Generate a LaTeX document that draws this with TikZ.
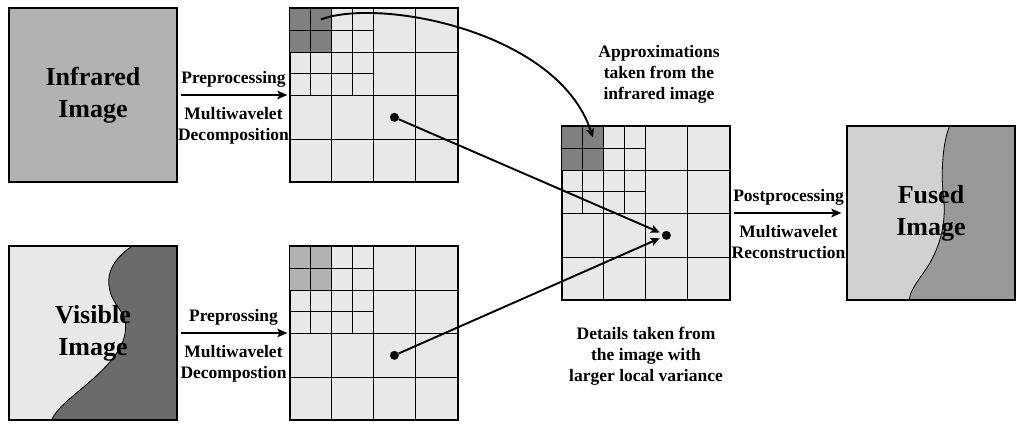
\documentclass[tikz,border=0pt]{standalone}
\usepackage{fontspec}
\setmainfont{Liberation Serif}
\usetikzlibrary{arrows.meta,positioning,backgrounds}
\tikzset{
  photo/.style={draw=black, line width=1.2pt, minimum width=168pt, minimum height=174pt,
                inner sep=0pt, align=center, font=\fontsize{26}{32}\selectfont\bfseries},
  band/.style={draw=black, line width=1.2pt, fill=black!9, minimum width=168pt,
               minimum height=174pt, inner sep=0pt},
  cell/.style={draw=black, line width=1.15pt},
  edge/.style={draw=black, line width=0.8pt},
  flow/.style={draw=black, line width=2pt, -{Stealth[length=10pt,width=8.5pt,inset=2pt]}},
  link/.style={draw=black, line width=1.9pt, -{Stealth[length=9pt,width=8pt,inset=2pt]}},
  lbl/.style={font=\fontsize{17.5}{21}\selectfont\bfseries, align=center, inner sep=2pt},
  dot/.style={circle, fill=black, inner sep=0pt, minimum size=9pt}
}
% subband layout of a two-level decomposition, drawn over node #1
\newcommand{\subbands}[2]{%
  \begin{scope}[shift={(#1.south west)}]
    \fill[#2] (0,130.5) rectangle (42,174);
    \foreach \x in {42,84,126} \draw[cell] (\x,0) -- (\x,174);
    \foreach \y in {43.5,87,130.5} \draw[cell] (0,\y) -- (168,\y);
    \foreach \x in {21,63} \draw[cell] (\x,87) -- (\x,174);
    \foreach \y in {108.75,152.25} \draw[cell] (0,\y) -- (84,\y);
    \coordinate (#1-ap) at (31.5,163.1);
    \coordinate (#1-dot) at (105,65.25);
  \end{scope}
  \draw[line width=1.2pt] (#1.south west) rectangle (#1.north east);
}

\begin{document}
\begin{tikzpicture}[x=1pt,y=1pt]
  \useasboundingbox (0,0) rectangle (1024,429);

  % Source images.
  \node[photo, fill=black!30] (ir) at (93,334) {Infrared\\Image};
  \node[photo] (vis) at (93,96) {Visible\\Image};
  \begin{scope}[on background layer, shift={(vis.south west)}]
    \fill[black!9] (0,0) rectangle (168,174);
    \fill[black!58] (123,174) .. controls (103,160) and (97,145) .. (102,128)
      .. controls (107,112) and (119,108) .. (117,90)
      .. controls (115,65) and (85,42) .. (65,25)
      .. controls (52,14) and (45,6) .. (43,0) -- (168,0) -- (168,174) -- cycle;
    \draw[edge] (123,174) .. controls (103,160) and (97,145) .. (102,128)
      .. controls (107,112) and (119,108) .. (117,90)
      .. controls (115,65) and (85,42) .. (65,25)
      .. controls (52,14) and (45,6) .. (43,0);
  \end{scope}

  % Decompositions and the fused coefficients.
  \node[band] (g1) at (374,334) {};
  \subbands{g1}{black!50}
  \node[band] (g2) at (374,96) {};
  \subbands{g2}{black!30}
  \node[band] (gm) at (646,216) {};
  \subbands{gm}{black!50}

  % Fused image.
  \node[photo] (out) at (931,216) {Fused\\Image};
  \begin{scope}[on background layer, shift={(out.south west)}]
    \fill[black!18] (0,0) rectangle (168,174);
    \fill[black!40] (103,174) .. controls (97,160) and (94,130) .. (97,105)
      .. controls (100,80) and (95,55) .. (80,32)
      .. controls (68,15) and (63,8) .. (63,0) -- (168,0) -- (168,174) -- cycle;
    \draw[edge] (103,174) .. controls (97,160) and (94,130) .. (97,105)
      .. controls (100,80) and (95,55) .. (80,32)
      .. controls (68,15) and (63,8) .. (63,0);
  \end{scope}

  % Processing steps.
  \draw[flow, shorten <=3pt, shorten >=2pt] (ir) --
    node[lbl, above=5pt] {Preprocessing}
    node[lbl, below=9pt] {Multiwavelet\\Decomposition} (g1);
  \draw[flow, shorten <=3pt, shorten >=2pt] (vis) --
    node[lbl, above=5pt] {Preprossing}
    node[lbl, below=9pt] {Multiwavelet\\Decompostion} (g2);
  \draw[flow, shorten <=3pt, shorten >=5pt] (gm) --
    node[lbl, above=5pt] {Postprocessing}
    node[lbl, below=9pt] {Multiwavelet\\Reconstruction} (out);

  % Coefficient selection.
  \node[dot] (p1) at (g1-dot) {};
  \node[dot] (p2) at (g2-dot) {};
  \node[dot] (pm) at (gm-dot) {};
  \draw[link, shorten >=2.5pt] (p1) -- (pm);
  \draw[link, shorten >=2.5pt] (p2) -- (pm);
  \draw[link] (g1-ap) to[out=21, in=108, out distance=62pt, in distance=112pt] (gm-ap);

  \node[lbl, above=20pt of gm, xshift=13pt] (approx)
    {Approximations\\taken from the\\infrared image};
  \node[lbl, below=24pt of gm] (detail)
    {Details taken from\\the image with\\larger local variance};
\end{tikzpicture}
\end{document}
